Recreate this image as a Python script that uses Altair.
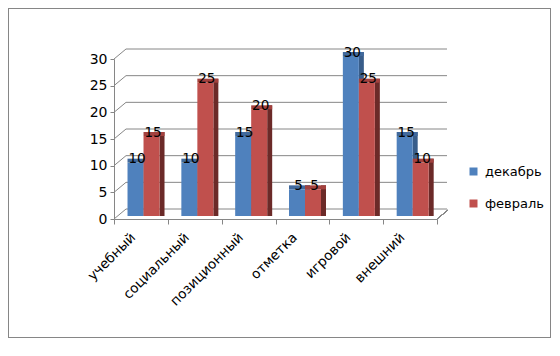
import altair as alt
import pandas as pd

categories = ["учебный", "социальный", "позиционный", "отметка", "игровой", "внешний"]
dec_values = [10, 10, 15, 5, 30, 15]
feb_values = [15, 25, 20, 5, 25, 10]
series_names = ["декабрь", "февраль"]
front_colors = ["#4F81BD", "#C0504D"]
side_colors = ["#385D8A", "#6B2A28"]
top_colors = ["#41699C", "#A3413E"]
y_ticks = [0, 5, 10, 15, 20, 25, 30]

rows = []
for c, d, f in zip(categories, dec_values, feb_values):
    rows.append({"category": c, "series": series_names[0], "value": d})
    rows.append({"category": c, "series": series_names[1], "value": f})
df = pd.DataFrame(rows)
ticks_df = pd.DataFrame({"tick": y_ticks})

W, H = 323, 160
FONT = "DejaVu Sans"
GRAY = "#868686"

x_axis = alt.Axis(title=None, labelAngle=-45, labelAlign="right", labelBaseline="middle",
                  tickBand="extent", tickSize=5, labelOffset=-8, labelPadding=11,
                  domainColor=GRAY, tickColor=GRAY, labelFont=FONT, labelFontSize=13.5,
                  labelColor="black")
x_enc = alt.X("category:N", sort=categories,
              scale=alt.Scale(paddingInner=0, paddingOuter=0), axis=x_axis)
y_scale = alt.Scale(domain=[0, 30], nice=False, zero=True)
y_axis = alt.Axis(title=None, values=y_ticks, tickSize=4, labelPadding=3, grid=False,
                  domainColor=GRAY, tickColor=GRAY, labelFont=FONT, labelFontSize=14,
                  labelColor="black")
y_enc = alt.Y("value:Q", scale=y_scale, axis=y_axis, stack=None)

base = alt.Chart(df)
gbase = alt.Chart(ticks_df)

# back wall grid lines
grid = gbase.mark_rule(color=GRAY, strokeWidth=1, yOffset=-10).encode(
    y=alt.Y("tick:Q", scale=y_scale, axis=y_axis),
    x=alt.value(12), x2=alt.value(W + 10))
# side wall diagonals
diag = gbase.mark_rule(color=GRAY, strokeWidth=1, y2Offset=-10).encode(
    y=alt.Y("tick:Q", scale=y_scale, axis=y_axis), y2=alt.Y2("tick:Q"),
    x=alt.value(0), x2=alt.value(12))
floor_diag = gbase.mark_rule(color=GRAY, strokeWidth=1).encode(
    x=alt.value(W), x2=alt.value(W + 11), y=alt.value(H), y2=alt.value(H - 9))

border = gbase.mark_rect(fill="transparent", stroke=GRAY, strokeWidth=1).encode(
    x=alt.value(-105.5), x2=alt.value(436.5), y=alt.value(-50.5), y2=alt.value(278.5))

layers = [border, grid, diag, floor_diag]
bar_dx = [-5.4, 10.6]
for i, s in enumerate(series_names):
    sub = base.transform_filter(alt.datum.series == s)
    dx = bar_dx[i]
    side = sub.mark_bar(width=5, xOffset=dx + 10.5, yOffset=-7, y2Offset=-3,
                        color=side_colors[i]).encode(x=x_enc, y=y_enc, y2=alt.datum(0))
    top = sub.mark_bar(width=21, xOffset=dx + 2.5, yOffset=-7, y2Offset=-3,
                       color=top_colors[i]).encode(x=x_enc, y=y_enc, y2=alt.Y2("value:Q"))
    front = sub.mark_bar(width=16, xOffset=dx, yOffset=-3, y2Offset=-3).encode(
        x=x_enc, y=y_enc, y2=alt.datum(0),
        color=alt.Color("series:N", scale=alt.Scale(domain=series_names, range=front_colors),
                        legend=alt.Legend(title=None, orient="none", legendX=353, legendY=106,
                                          symbolType="square", symbolSize=64,
                                          symbolStrokeWidth=0, labelOffset=5,
                                          rowPadding=18, labelFontSize=13, labelFont=FONT,
                                          labelColor="black")))
    layers += [side, top, front]

for i, s in enumerate(series_names):
    sub = base.transform_filter(alt.datum.series == s)
    txt = sub.mark_text(dx=bar_dx[i] + 1.5, dy=-6.5, baseline="middle", align="center",
                        fontSize=13.5, font=FONT, color="black").encode(
        x=x_enc, y=y_enc, text=alt.Text("value:Q"))
    layers.append(txt)

chart = alt.layer(*layers).properties(
    width=W, height=H,
    autosize=alt.AutoSizeParams(type="none"),
    padding={"left": 106, "top": 51, "right": 114, "bottom": 121},
    background="white",
).configure_view(stroke=None)

chart.save("out.html", embed_options={"renderer": "svg", "actions": False})
